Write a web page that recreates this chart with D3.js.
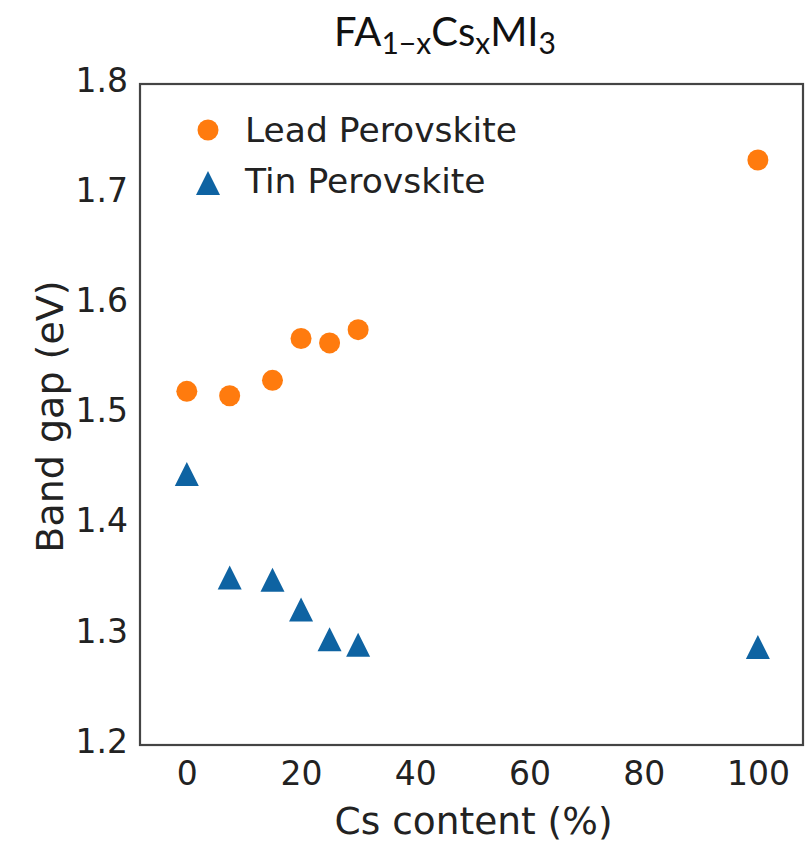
<!DOCTYPE html>
<html>
<head>
<meta charset="utf-8">
<script src="https://cdn.jsdelivr.net/npm/d3@7"></script>
<style>
  html, body { margin: 0; padding: 0; background: #fff; }
  svg { display: block; }
</style>
</head>
<body>
<svg id="chart" width="807" height="842"></svg>
<script>
// ---- data ----
const csContent = [0, 7.5, 15, 20, 25, 30, 100];
const leadBandGap = [1.521, 1.517, 1.531, 1.569, 1.565, 1.577, 1.731];
const tinBandGap = [1.446, 1.352, 1.350, 1.323, 1.296, 1.291, 1.289];
const xTicks = [0, 20, 40, 60, 80, 100];
const yTicks = [1.2, 1.3, 1.4, 1.5, 1.6, 1.7, 1.8];
const seriesNames = ["Lead Perovskite", "Tin Perovskite"];
const xLabel = "Cs content (%)";
const yLabel = "Band gap (eV)";

// ---- layout ----
const plot = { left: 140, top: 84, right: 803, bottom: 745 };
const colors = { lead: "#ff7b0e", tin: "#0e63a2" };
const font = "'DejaVu Sans', sans-serif";

const svg = d3.select("#chart");

const x = d3.scaleLinear().domain([-8.2, 107.9]).range([plot.left, plot.right]);
const y = d3.scaleLinear().domain([1.2, 1.8]).range([plot.bottom, plot.top]);

// axes (labels only, no tick marks)
const xAxis = d3.axisBottom(x).tickValues(xTicks).tickSize(0).tickPadding(17).tickFormat(d3.format("d"));
const gx = svg.append("g").attr("transform", `translate(0,${plot.bottom})`).call(xAxis);
gx.select(".domain").remove();
gx.selectAll("text").attr("font-family", font).attr("font-size", 33).attr("fill", "#222");

const yAxis = d3.axisLeft(y).tickValues(yTicks).tickSize(0).tickPadding(12).tickFormat(d3.format(".1f"));
const gy = svg.append("g").attr("transform", `translate(${plot.left},0)`).call(yAxis);
gy.select(".domain").remove();
gy.selectAll("text").attr("font-family", font).attr("font-size", 33).attr("fill", "#222").attr("dy", "0.22em");

// frame
svg.append("rect")
  .attr("x", plot.left).attr("y", plot.top)
  .attr("width", plot.right - plot.left).attr("height", plot.bottom - plot.top)
  .attr("fill", "none").attr("stroke", "#444").attr("stroke-width", 2.2);

// axis labels
svg.append("text")
  .attr("x", (plot.left + plot.right) / 2 + 2).attr("y", 834)
  .attr("text-anchor", "middle").attr("font-family", font).attr("font-size", 37.5).attr("fill", "#222")
  .text(xLabel);

svg.append("text")
  .attr("transform", `translate(63,${(plot.top + plot.bottom) / 2 + 2}) rotate(-90)`)
  .attr("text-anchor", "middle").attr("font-family", font).attr("font-size", 38).attr("fill", "#222")
  .text(yLabel);

// title
const title = svg.append("text")
  .attr("x", 445).attr("y", 46)
  .attr("text-anchor", "middle").attr("font-family", "Lato, 'Open Sans', sans-serif")
  .attr("font-size", 40).attr("fill", "#111");
title.append("tspan").text("FA");
title.append("tspan").attr("font-size", 30).attr("dy", 8).text("1\u2212x");
title.append("tspan").attr("dy", -8).text("Cs");
title.append("tspan").attr("font-size", 30).attr("dy", 8).text("x");
title.append("tspan").attr("dy", -8).text("MI");
title.append("tspan").attr("font-size", 30).attr("dy", 8).text("3");

// markers
const triPath = (h) => `M0,${-h}L${h},${h}L${-h},${h}Z`;
const circleR = 10.5, triH = 12;

const leadData = csContent.map((c, i) => ({ c, v: leadBandGap[i] }));
const tinData = csContent.map((c, i) => ({ c, v: tinBandGap[i] }));

svg.append("g").selectAll("circle").data(leadData).join("circle")
  .attr("cx", d => x(d.c)).attr("cy", d => y(d.v)).attr("r", circleR)
  .attr("fill", colors.lead);

svg.append("g").selectAll("path").data(tinData).join("path")
  .attr("transform", d => `translate(${x(d.c)},${y(d.v)})`)
  .attr("d", triPath(triH)).attr("fill", colors.tin);

// legend
const legend = svg.append("g").attr("transform", "translate(208,130)");
legend.append("circle").attr("cx", 0).attr("cy", 0).attr("r", circleR).attr("fill", colors.lead);
legend.append("text").attr("x", 37).attr("y", 0).attr("dy", "0.36em")
  .attr("font-family", font).attr("font-size", 34.5).attr("fill", "#222").text(seriesNames[0]);
legend.append("path").attr("transform", "translate(0,53)").attr("d", triPath(triH)).attr("fill", colors.tin);
legend.append("text").attr("x", 37).attr("y", 51).attr("dy", "0.36em")
  .attr("font-family", font).attr("font-size", 34.5).attr("fill", "#222").text(seriesNames[1]);
</script>
</body>
</html>
